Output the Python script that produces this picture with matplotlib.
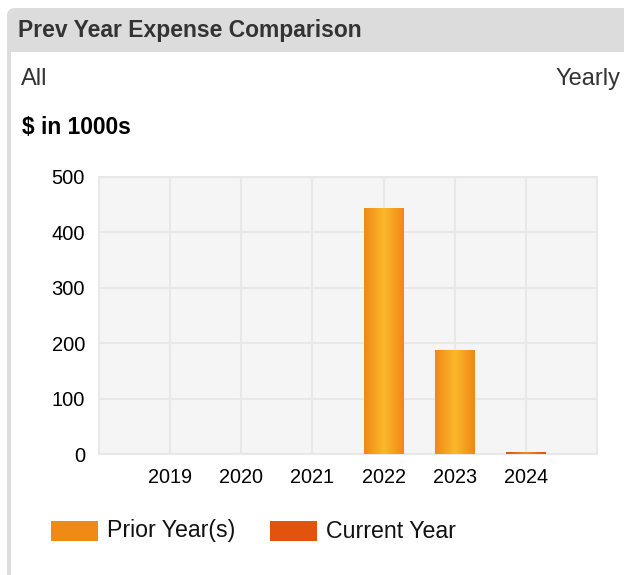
import numpy as np
import matplotlib
matplotlib.use("Agg")
import matplotlib.pyplot as plt
from matplotlib.patches import FancyBboxPatch, Rectangle
from matplotlib.colors import LinearSegmentedColormap

plt.rcParams['font.family'] = ['Liberation Sans', 'DejaVu Sans']

# ---- data ----
years = ['2019', '2020', '2021', '2022', '2023', '2024']
prior_year = [0, 0, 0, 444, 188, 0]
current_year = [0, 0, 0, 0, 0, 4]
y_ticks = [0, 100, 200, 300, 400, 500]
title = "Prev Year Expense Comparison"
legend_labels = ["Prior Year(s)", "Current Year"]

W, H = 624, 575
fig = plt.figure(figsize=(W / 100, H / 100), dpi=100)
fig.patch.set_facecolor('white')

def fx(x):
    return x / W

def fy(y):
    return 1 - y / H

# panel: gray header + left border
hdr = FancyBboxPatch((fx(7), fy(600)), fx(700), fy(8) - fy(600),
                     boxstyle="round,pad=0,rounding_size=0.013",
                     transform=fig.transFigure, facecolor='#dcdcdc',
                     edgecolor='none', zorder=0)
fig.patches.append(hdr)
body = Rectangle((fx(11), fy(600)), fx(700), fy(52) - fy(600),
                 transform=fig.transFigure, facecolor='white',
                 edgecolor='none', zorder=0.5)
fig.patches.append(body)

fig.text(fx(18), fy(31), title, fontsize=16.5, fontweight='bold',
         color='#333333', va='center', ha='left')
fig.text(fx(21), fy(79), "All", fontsize=17, color='#333333',
         va='center', ha='left')
fig.text(fx(620), fy(79), "Yearly", fontsize=17, color='#333333',
         va='center', ha='right')
fig.text(fx(22), fy(127), "$ in 1000s", fontsize=16.4, fontweight='bold',
         color='black', va='center', ha='left')

# axes
L, R, T, B = 99, 597, 177, 454
ax = fig.add_axes([fx(L), fy(B), fx(R - L), fy(T) - fy(B)])
ax.set_zorder(2)
ax.set_facecolor('#f5f5f5')
x = np.arange(len(years))
bw = 0.55

grad_prior = LinearSegmentedColormap.from_list(
    'gp', ['#f08818', '#fbb829', '#f08818'])
grad_cur = LinearSegmentedColormap.from_list(
    'gc', ['#e4500f', '#f0891a', '#e4500f'])
gimg = np.linspace(0, 1, 64).reshape(1, -1)

bars_p = ax.bar(x, prior_year, width=bw, color='#f0891a', zorder=2,
                linewidth=0)
bars_c = ax.bar(x, current_year, bottom=prior_year, width=bw,
                color='#e4520f', zorder=2, linewidth=0)

for bars, cmap in ((bars_p, grad_prior), (bars_c, grad_cur)):
    for b in bars:
        h = b.get_height()
        if h <= 0:
            continue
        x0 = b.get_x()
        y0 = b.get_y()
        im = ax.imshow(gimg, cmap=cmap, aspect='auto',
                       extent=(x0, x0 + b.get_width(), y0, y0 + h),
                       zorder=3, interpolation='bilinear')
        im.set_clip_path(b)

ax.set_xlim(-1, len(years))
ax.set_ylim(0, 500)
ax.set_xticks(x)
ax.set_xticklabels(years)
ax.set_yticks(y_ticks)
ax.tick_params(axis='both', length=0, colors='black')
ax.tick_params(axis='x', labelsize=14.3, pad=10)
ax.tick_params(axis='y', labelsize=14.5, pad=10)
ax.grid(True, color='#e8e8e8', linewidth=1.5, zorder=1)
ax.set_axisbelow(True)
for s in ax.spines.values():
    s.set_color('#e8e8e8')
    s.set_linewidth(1.5)

# legend
leg_colors = ['#ef8a14', '#e2530e']
leg_x = [51, 270]
text_x = [107, 326]
for c, lx, tx, lab in zip(leg_colors, leg_x, text_x, legend_labels):
    fig.patches.append(Rectangle((fx(lx), fy(541)), fx(47), fy(521) - fy(541),
                                 transform=fig.transFigure, facecolor=c,
                                 edgecolor='none', zorder=2))
    fig.text(fx(tx), fy(531), lab, fontsize=16.7, color='#111111',
             va='center', ha='left')

fig.savefig('out.png', dpi=100, facecolor='white')
